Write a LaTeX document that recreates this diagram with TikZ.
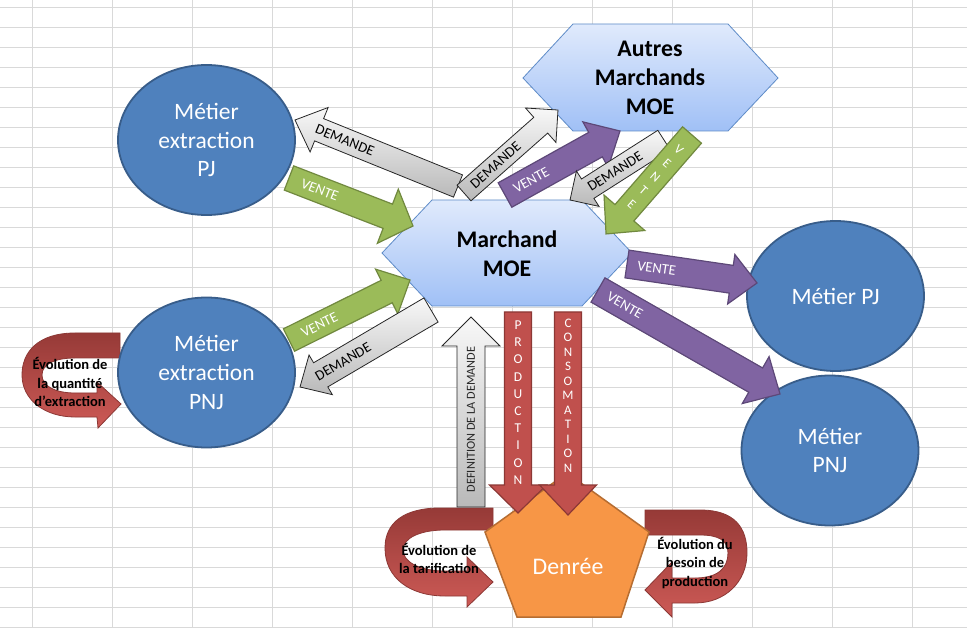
\documentclass[tikz,border=0pt]{standalone}
\usepackage{fontspec}
\setmainfont{Carlito}
\usetikzlibrary{shapes.geometric}
\definecolor{cblue}{RGB}{79,129,189}
\definecolor{cblueb}{RGB}{56,93,138}
\definecolor{chexb}{RGB}{95,140,200}
\definecolor{chextop}{RGB}{224,234,252}
\definecolor{chexbot}{RGB}{160,192,246}
\definecolor{cgreen}{RGB}{155,187,89}
\definecolor{cgreenb}{RGB}{113,137,63}
\definecolor{cpurple}{RGB}{128,100,162}
\definecolor{cpurpleb}{RGB}{93,72,120}
\definecolor{cred}{RGB}{192,80,77}
\definecolor{credb}{RGB}{140,56,53}
\definecolor{credd}{RGB}{150,58,55}
\definecolor{credl}{RGB}{205,90,86}
\definecolor{corange}{RGB}{247,150,70}
\definecolor{corangeb}{RGB}{182,109,49}
\definecolor{cgrid}{RGB}{217,217,217}
\definecolor{cgraylt}{RGB}{248,248,248}
\definecolor{cgraydk}{RGB}{185,185,185}
% block arrow: #1 style, #2 x1, #3 y1, #4 x2 (tip), #5 y2, #6 half shaft, #7 half head, #8 head length, #9 label code
\newcommand\barrow[9]{%
  \pgfmathsetmacro\bang{atan2(#3-#5,#4-#2)}%
  \pgfmathsetmacro\blen{veclen(#4-#2,#5-#3)}%
  \pgfmathsetmacro\bbase{\blen-#8}%
  \begin{scope}[shift={(#2,#3)},rotate=\bang]
    \path[#1] (0,-#6) -- (\bbase,-#6) -- (\bbase,-#7) -- (\blen,0) -- (\bbase,#7) -- (\bbase,#6) -- (0,#6) -- cycle;
    #9
  \end{scope}}
\begin{document}
\begin{tikzpicture}[x=1pt,y=-1pt,
  gridline/.style={draw=cgrid,line width=1pt},
  ell/.style={ellipse,draw=cblueb,fill=cblue,line width=1.8pt,minimum width=177pt,minimum height=150pt,inner sep=0pt,text=white,align=center,font=\fontsize{23.5}{28.7}\selectfont},
  hexa/.style={draw=chexb,line width=0.8pt,top color=chextop,bottom color=chexbot},
  hextxt/.style={align=center,font=\bfseries\fontsize{23.8}{28.7}\selectfont,text=black},
  arrgray/.style={draw=black!85,line width=0.8pt,top color=cgraylt,bottom color=cgraydk},
  arrgreen/.style={draw=cgreenb,line width=1.2pt,fill=cgreen},
  arrpurple/.style={draw=cpurpleb,line width=1.2pt,fill=cpurple},
  arrred/.style={draw=credb,line width=1.2pt,fill=cred},
  lblw/.style={text=white,inner sep=0pt,font=\fontsize{14.5}{17}\selectfont},
  lblk/.style={text=black,inner sep=0pt,font=\fontsize{14.5}{17}\selectfont},
  ribbon/.style={draw=credb,line width=0.8pt,top color=credd,bottom color=credl},
  evo/.style={align=center,text=black,inner sep=0pt,font=\bfseries\fontsize{14.5}{18.5}\selectfont}
]
\useasboundingbox (0,0) rectangle (967,628);
\fill[white] (0,0) rectangle (967,628);
% grid
\foreach \i in {0,...,11} \draw[gridline] (32.5+80*\i,0) -- (32.5+80*\i,628);
\foreach \i in {0,...,31} \draw[gridline] (0,7.3+20*\i) -- (967,7.3+20*\i);

% curved arrows (ribbons)
\path[ribbon] (120,333) -- (75,333) .. controls (38,333) and (22,352) .. (22,375) .. controls (22,400) and (45,417) .. (75,417) -- (97,417) -- (98,428) -- (121,404) -- (97,382) -- (97,393) -- (75,393) .. controls (55,393) and (42,386) .. (42,375) .. controls (42,364) and (55,358) .. (75,358) -- (120,358) -- cycle;
\path[ribbon] (493,508) -- (440,508) .. controls (405,508) and (385,522) .. (385,548) .. controls (385,578) and (410,596) .. (445,596) -- (467,596) -- (467,607) -- (493,582) -- (467,557) -- (467,571) -- (445,571) .. controls (420,571) and (403,562) .. (403,550) .. controls (403,538) and (420,530) .. (445,530) -- (493,530) -- cycle;
\path[ribbon] (645,510) -- (700,510) .. controls (735,510) and (747,528) .. (747,553) .. controls (747,582) and (725,603) .. (695,603) -- (672,603) -- (672,617) -- (645,590) -- (672,562) -- (672,578) -- (695,578) .. controls (718,578) and (728,568) .. (728,553) .. controls (728,540) and (718,535) .. (700,535) -- (645,535) -- cycle;

% ellipses
\node[ell] (expj) at (206.5,140) {Métier\\extraction\\PJ};
\node[ell] (expnj) at (206.5,372.5) {Métier\\extraction\\PNJ};
\node[ell] (mpj) at (835.5,296) {Métier PJ};
\node[ell] (mpnj) at (830,450.5) {Métier\\PNJ};

% hexagons
\path[hexa] (523,78) -- (573,24) -- (728,24) -- (778,78) -- (728,131) -- (573,131) -- cycle;
\node[hextxt] (autres) at (650,78) {Autres\\Marchands\\MOE};
\path[hexa] (382,253) -- (432,200) -- (582,200) -- (632,253) -- (582,306) -- (432,306) -- cycle;
\node[hextxt] (march) at (507,254) {Marchand\\MOE};

% pentagon
\path[draw=corangeb,line width=1.5pt,fill=corange] (567,473) -- (649,532) -- (621,617) -- (517,617) -- (485,532) -- cycle;
\node[text=white,font=\fontsize{23.8}{28}\selectfont] (denree) at (568,566) {Denrée};

% block arrows
\barrow{arrgray}{458}{186}{295}{120}{12}{24}{26}{\node[lblk,rotate=\bang+180] (l1) at (122,0) {DEMANDE};}
\barrow{arrgreen}{289}{178}{413}{226}{13}{29}{27}{\node[lblw,rotate=\bang] (l2) at (33,0) {VENTE};}
\barrow{arrgray}{464}{193}{558}{110}{10.5}{23}{23}{\node[lblk,rotate=\bang] (l3) at (42,0) {DEMANDE};}
\barrow{arrpurple}{505}{195}{620}{131}{14}{26}{28}{\node[lblw,rotate=\bang] (l4) at (30,0) {VENTE};}
\barrow{arrgray}{664}{140}{570}{200}{11.5}{21}{21}{\node[lblk,rotate=\bang+180] (l5) at (58,0) {DEMANDE};}
\barrow{arrgreen}{692}{135}{606}{234}{12.5}{27}{28}{\node[lblw,align=center,font=\fontsize{13}{18}\selectfont,rotate=\bang+90] (l6) at (56,0) {V\\E\\N\\T\\E};}
\barrow{arrgreen}{289}{340}{410}{280}{12.5}{25}{26}{\node[lblw,rotate=\bang] (l7) at (34,0) {VENTE};}
\barrow{arrgray}{431}{310}{300}{387}{14}{23}{24}{\node[lblk,rotate=\bang+180] (l8) at (102,0) {DEMANDE};}
\barrow{arrgray}{471}{507}{471}{317}{14}{29}{29}{\node[text=black!85,inner sep=0pt,font=\fontsize{12.3}{14}\selectfont,rotate=\bang] (l9) at (87.5,0) {DEFINITION DE LA DEMANDE};}
\barrow{arrred}{518}{312}{518}{513}{13.5}{28.5}{28}{\node[lblw,align=center,font=\fontsize{13.5}{17.2}\selectfont] (l10) at (90.5,0) {P\\R\\O\\D\\U\\C\\T\\I\\O\\N};}
\barrow{arrred}{568}{312}{568}{515}{13.5}{28.5}{30}{\node[lblw,align=center,font=\fontsize{13}{14.5}\selectfont] (l11) at (83.5,0) {C\\O\\N\\S\\O\\M\\A\\T\\I\\O\\N};}
\barrow{arrpurple}{627}{264}{757}{283}{14}{25}{26}{\node[lblw,rotate=\bang] (l12) at (30,0) {VENTE};}
\barrow{arrpurple}{598}{290}{780}{394}{14}{27}{28}{\node[lblw,rotate=\bang] (l13) at (31,0) {VENTE};}

% ribbon texts
\node[evo] (evq) at (70,382) {Évolution de\\la quantité\\d'extraction};
\node[evo] (evt) at (439,558.5) {Évolution de\\la tarification};
\node[evo] (evb) at (695,563) {Évolution du\\besoin de\\production};
\end{tikzpicture}
\end{document}
